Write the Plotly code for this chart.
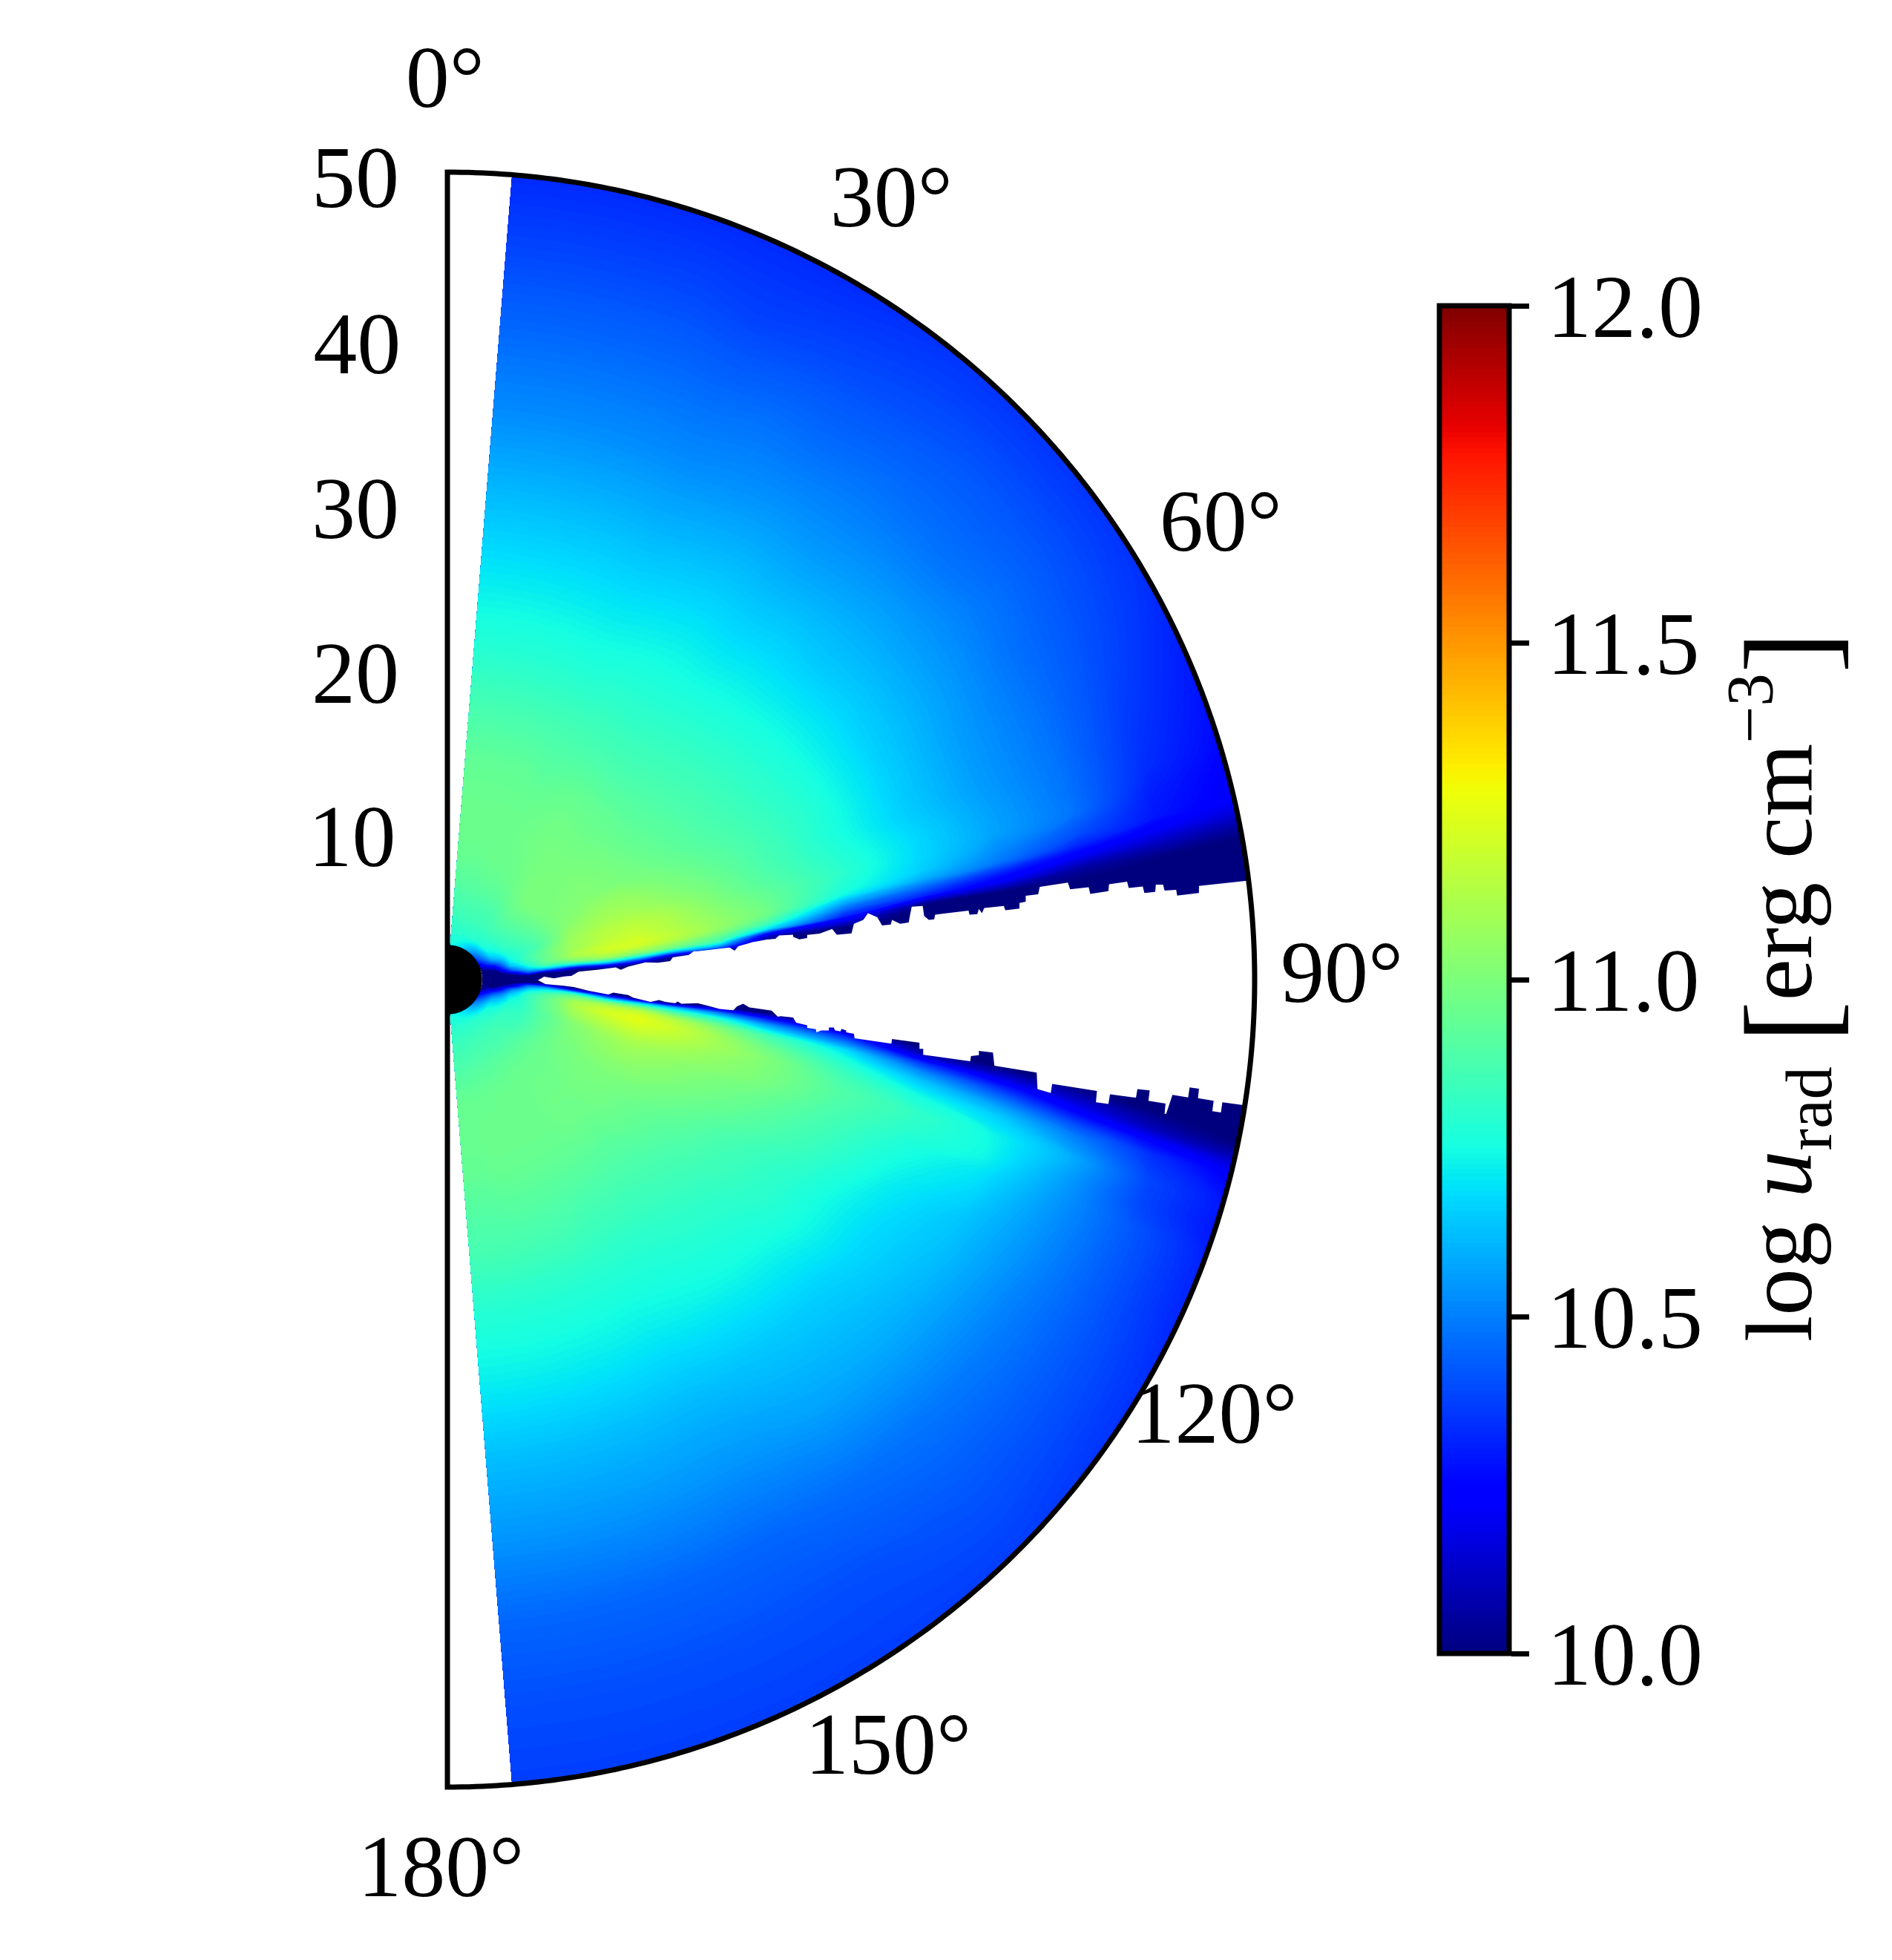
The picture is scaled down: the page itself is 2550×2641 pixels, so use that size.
import numpy as np
import plotly.graph_objects as go

# radius and polar angle of the table nodes
r_grid = [2.15, 3, 4, 5, 6, 7, 8, 10, 12, 14, 17, 20, 25, 30, 35, 40, 45, 50]
theta_grid = [4.6, 10, 15, 20, 25, 30, 35, 40, 45, 50, 55, 60, 65, 70, 73, 75, 77, 78, 79, 80,
              81, 82, 83, 84, 85, 86, 87, 88, 92, 93, 94, 95, 96, 97, 98, 99, 100, 101, 102, 103,
              104, 106, 108, 110, 115, 120, 125, 130, 135, 140, 145, 150, 155, 160, 165, 170, 175.4]

# log u_rad, one row per theta
log_urad = [
    [10.75, 10.80, 10.84, 10.87, 10.90, 10.93, 10.95, 10.96, 10.95, 10.93, 10.87, 10.80, 10.71, 10.62, 10.53, 10.46, 10.39, 10.33],
    [10.74, 10.80, 10.84, 10.88, 10.91, 10.93, 10.95, 10.96, 10.95, 10.93, 10.87, 10.80, 10.71, 10.62, 10.53, 10.46, 10.39, 10.33],
    [10.72, 10.80, 10.85, 10.88, 10.91, 10.93, 10.95, 10.96, 10.95, 10.93, 10.87, 10.80, 10.71, 10.62, 10.53, 10.46, 10.39, 10.33],
    [10.70, 10.80, 10.85, 10.88, 10.92, 10.94, 10.96, 10.96, 10.95, 10.93, 10.87, 10.80, 10.71, 10.62, 10.53, 10.46, 10.39, 10.33],
    [10.67, 10.80, 10.85, 10.88, 10.92, 10.94, 10.96, 10.96, 10.95, 10.92, 10.87, 10.80, 10.71, 10.62, 10.53, 10.46, 10.38, 10.33],
    [10.63, 10.80, 10.85, 10.88, 10.92, 10.95, 10.96, 10.97, 10.96, 10.93, 10.87, 10.81, 10.72, 10.63, 10.54, 10.47, 10.39, 10.33],
    [10.58, 10.79, 10.85, 10.88, 10.93, 10.96, 10.97, 10.98, 10.97, 10.94, 10.87, 10.81, 10.73, 10.64, 10.55, 10.47, 10.40, 10.34],
    [10.53, 10.78, 10.85, 10.90, 10.95, 10.98, 10.99, 10.99, 10.97, 10.94, 10.87, 10.82, 10.73, 10.64, 10.55, 10.48, 10.41, 10.35],
    [10.48, 10.78, 10.85, 10.91, 10.96, 11.00, 11.00, 10.99, 10.97, 10.94, 10.88, 10.83, 10.74, 10.65, 10.56, 10.48, 10.42, 10.35],
    [10.42, 10.76, 10.84, 10.90, 10.95, 11.00, 11.00, 11.00, 10.98, 10.94, 10.89, 10.84, 10.75, 10.65, 10.57, 10.48, 10.42, 10.35],
    [10.37, 10.73, 10.83, 10.89, 10.94, 10.99, 11.00, 11.01, 10.99, 10.95, 10.90, 10.85, 10.76, 10.66, 10.57, 10.49, 10.42, 10.35],
    [10.30, 10.68, 10.82, 10.87, 10.92, 10.98, 11.01, 11.02, 11.00, 10.97, 10.91, 10.86, 10.77, 10.66, 10.57, 10.48, 10.41, 10.34],
    [10.20, 10.60, 10.79, 10.85, 10.90, 10.97, 11.02, 11.06, 11.06, 11.01, 10.94, 10.88, 10.78, 10.66, 10.56, 10.48, 10.39, 10.31],
    [10.10, 10.45, 10.75, 10.83, 10.89, 10.97, 11.06, 11.10, 11.10, 11.06, 10.98, 10.90, 10.78, 10.66, 10.56, 10.48, 10.36, 10.28],
    [10.03, 10.30, 10.72, 10.84, 10.92, 11.00, 11.08, 11.14, 11.15, 11.11, 11.01, 10.92, 10.80, 10.68, 10.57, 10.48, 10.34, 10.26],
    [10.00, 10.22, 10.70, 10.85, 10.93, 11.02, 11.08, 11.15, 11.17, 11.13, 11.03, 10.95, 10.81, 10.68, 10.57, 10.48, 10.31, 10.24],
    [9.95, 10.12, 10.64, 10.82, 10.93, 11.01, 11.10, 11.17, 11.19, 11.14, 11.05, 10.97, 10.78, 10.66, 10.52, 10.40, 10.29, 10.22],
    [9.95, 10.10, 10.62, 10.82, 10.94, 11.02, 11.12, 11.19, 11.21, 11.16, 11.06, 10.98, 10.74, 10.60, 10.48, 10.32, 10.22, 10.16],
    [9.95, 10.05, 10.56, 10.78, 10.93, 11.01, 11.11, 11.20, 11.22, 11.16, 11.06, 10.95, 10.60, 10.46, 10.32, 10.20, 10.12, 10.06],
    [9.90, 10.00, 10.50, 10.75, 10.92, 10.99, 11.09, 11.19, 11.19, 11.14, 11.02, 10.87, 10.45, 10.32, 10.20, 10.06, 10.02, 9.99],
    [9.90, 9.95, 10.45, 10.72, 10.90, 10.93, 11.02, 11.14, 11.12, 11.06, 10.94, 10.70, 10.30, 10.02, 10.00, 10.00, 9.95, 9.90],
    [9.90, 9.90, 10.40, 10.66, 10.82, 10.85, 10.95, 11.08, 11.03, 10.97, 10.85, 10.20, 10.10, 9.95, 9.90, 9.90, 9.90, 9.90],
    [9.90, 9.90, 10.28, 10.60, 10.70, 10.72, 10.75, 10.90, 10.80, 10.60, 10.55, 10.00, 9.90, 9.90, 9.90, 9.90, 9.90, 9.90],
    [9.90, 9.90, 10.15, 10.50, 10.55, 10.50, 10.45, 10.60, 10.45, 10.10, 10.10, 9.90, 9.90, 9.90, 9.90, 9.90, 9.90, 9.90],
    [9.90, 9.90, 10.08, 10.40, 10.30, 10.20, 10.10, 10.20, 10.10, 10.00, 9.90, 9.90, 9.90, 9.90, 9.90, 9.90, 9.90, 9.90],
    [9.90, 9.90, 10.00, 10.20, 10.00, 10.05, 10.00, 10.00, 9.90, 9.90, 9.90, 9.90, 9.90, 9.90, 9.90, 9.90, 9.90, 9.90],
    [9.90, 9.90, 9.95, 10.00, 9.90, 9.90, 9.90, 9.90, 9.90, 9.90, 9.90, 9.90, 9.90, 9.90, 9.90, 9.90, 9.90, 9.90],
    [9.90, 9.90, 9.90, 9.90, 9.90, 9.90, 9.90, 9.90, 9.90, 9.90, 9.90, 9.90, 9.90, 9.90, 9.90, 9.90, 9.90, 9.90],
    [9.90, 9.90, 9.90, 9.95, 9.90, 9.90, 9.90, 9.90, 9.90, 9.90, 9.90, 9.90, 9.90, 9.90, 9.90, 9.90, 9.90, 9.90],
    [9.90, 9.90, 9.95, 10.20, 10.15, 10.00, 9.90, 9.90, 9.90, 9.90, 9.90, 9.90, 9.90, 9.90, 9.90, 9.90, 9.90, 9.90],
    [9.90, 9.90, 10.05, 10.40, 10.40, 10.20, 10.00, 9.90, 9.90, 9.90, 9.90, 9.90, 9.90, 9.90, 9.90, 9.90, 9.90, 9.90],
    [9.90, 9.90, 10.12, 10.50, 10.60, 10.50, 10.30, 10.00, 9.95, 9.90, 9.90, 9.90, 9.90, 9.90, 9.90, 9.90, 9.90, 9.90],
    [9.90, 9.90, 10.20, 10.60, 10.70, 10.75, 10.70, 10.35, 10.10, 10.00, 10.10, 10.00, 9.90, 9.90, 9.90, 9.90, 9.90, 9.90],
    [9.90, 9.90, 10.32, 10.66, 10.78, 10.85, 10.90, 10.70, 10.65, 10.60, 10.50, 10.30, 10.00, 9.90, 9.90, 9.90, 9.90, 9.90],
    [9.90, 10.00, 10.42, 10.72, 10.85, 10.93, 11.00, 10.95, 10.95, 10.85, 10.75, 10.55, 10.30, 9.95, 9.90, 9.90, 9.90, 9.90],
    [9.90, 10.02, 10.48, 10.76, 10.88, 10.97, 11.05, 11.10, 11.12, 11.02, 10.90, 10.72, 10.50, 10.10, 10.00, 9.95, 9.90, 9.90],
    [9.90, 10.05, 10.55, 10.80, 10.90, 11.00, 11.10, 11.17, 11.20, 11.14, 11.01, 10.87, 10.68, 10.35, 10.15, 10.03, 9.95, 9.90],
    [9.95, 10.12, 10.58, 10.81, 10.91, 11.00, 11.11, 11.20, 11.24, 11.18, 11.06, 10.92, 10.75, 10.52, 10.32, 10.14, 10.03, 9.97],
    [10.00, 10.18, 10.62, 10.82, 10.92, 11.00, 11.12, 11.21, 11.25, 11.20, 11.09, 10.97, 10.80, 10.63, 10.46, 10.26, 10.10, 10.02],
    [10.00, 10.23, 10.65, 10.82, 10.92, 11.00, 11.10, 11.19, 11.23, 11.19, 11.09, 11.00, 10.84, 10.70, 10.58, 10.40, 10.25, 10.13],
    [10.00, 10.28, 10.68, 10.82, 10.92, 10.99, 11.09, 11.17, 11.21, 11.17, 11.09, 11.02, 10.87, 10.76, 10.66, 10.50, 10.34, 10.23],
    [10.03, 10.38, 10.72, 10.82, 10.92, 10.98, 11.07, 11.13, 11.16, 11.13, 11.06, 11.01, 10.90, 10.82, 10.74, 10.60, 10.39, 10.29],
    [10.07, 10.45, 10.74, 10.82, 10.91, 10.97, 11.03, 11.09, 11.12, 11.09, 11.04, 11.00, 10.89, 10.80, 10.74, 10.57, 10.39, 10.29],
    [10.12, 10.52, 10.76, 10.82, 10.90, 10.95, 11.01, 11.06, 11.09, 11.06, 11.01, 10.97, 10.87, 10.77, 10.70, 10.55, 10.42, 10.31],
    [10.25, 10.62, 10.80, 10.83, 10.90, 10.95, 10.99, 11.03, 11.04, 11.02, 10.97, 10.92, 10.83, 10.72, 10.64, 10.53, 10.42, 10.32],
    [10.33, 10.70, 10.82, 10.84, 10.90, 10.95, 10.98, 11.00, 11.00, 10.98, 10.93, 10.87, 10.79, 10.69, 10.62, 10.51, 10.42, 10.34],
    [10.42, 10.74, 10.83, 10.85, 10.91, 10.95, 10.97, 10.99, 10.98, 10.95, 10.90, 10.85, 10.78, 10.68, 10.60, 10.50, 10.42, 10.35],
    [10.48, 10.76, 10.84, 10.87, 10.92, 10.95, 10.96, 10.98, 10.97, 10.94, 10.88, 10.83, 10.76, 10.66, 10.59, 10.49, 10.42, 10.36],
    [10.53, 10.78, 10.85, 10.88, 10.92, 10.95, 10.96, 10.97, 10.96, 10.92, 10.87, 10.82, 10.75, 10.65, 10.58, 10.48, 10.42, 10.37],
    [10.58, 10.79, 10.85, 10.88, 10.92, 10.95, 10.96, 10.97, 10.96, 10.92, 10.86, 10.81, 10.74, 10.64, 10.57, 10.47, 10.41, 10.37],
    [10.62, 10.80, 10.85, 10.88, 10.92, 10.95, 10.96, 10.96, 10.95, 10.92, 10.86, 10.80, 10.73, 10.63, 10.55, 10.46, 10.40, 10.37],
    [10.66, 10.80, 10.85, 10.88, 10.92, 10.94, 10.96, 10.96, 10.95, 10.92, 10.86, 10.80, 10.72, 10.62, 10.54, 10.45, 10.40, 10.37],
    [10.69, 10.80, 10.85, 10.88, 10.91, 10.94, 10.96, 10.96, 10.95, 10.92, 10.87, 10.80, 10.72, 10.62, 10.54, 10.45, 10.40, 10.37],
    [10.71, 10.80, 10.85, 10.88, 10.91, 10.94, 10.95, 10.96, 10.95, 10.92, 10.87, 10.80, 10.72, 10.62, 10.54, 10.45, 10.40, 10.37],
    [10.73, 10.80, 10.84, 10.87, 10.91, 10.93, 10.95, 10.96, 10.95, 10.92, 10.87, 10.80, 10.72, 10.62, 10.54, 10.45, 10.40, 10.37],
    [10.74, 10.80, 10.84, 10.87, 10.90, 10.93, 10.95, 10.95, 10.94, 10.91, 10.87, 10.80, 10.72, 10.62, 10.54, 10.45, 10.40, 10.37],
    [10.75, 10.80, 10.84, 10.87, 10.90, 10.93, 10.95, 10.95, 10.94, 10.91, 10.87, 10.80, 10.72, 10.62, 10.54, 10.45, 10.40, 10.37],
]

# jagged edges of the empty wedge around the midplane
upper_edge_x = [5.61, 5.99, 6.60, 7.22, 7.68, 8.13, 9.28, 10.43, 10.74, 11.20, 12.27, 13.04, 13.80, 13.96, 14.95, 15.26,
                15.49, 17.48, 17.79, 18.02, 18.94, 19.78, 20.31, 20.54, 21.41, 21.41, 21.80, 22.28, 22.28, 23.05, 23.83,
                24.12, 25.03, 25.18, 25.76, 26.05, 26.63, 26.92, 27.46, 27.54, 28.04, 28.57, 28.66, 28.76, 29.44, 29.53,
                29.82, 30.15, 30.21, 32.28, 32.34, 32.82, 32.92, 33.11, 33.25, 34.46, 34.56, 35.43, 35.43, 35.82, 35.82,
                36.59, 36.69, 38.43, 38.57, 39.72, 39.82, 40.94, 40.98, 42.10, 42.20, 43.07, 43.17, 43.84, 43.88, 44.33,
                44.42, 45.14, 45.20, 46.55, 46.55, 49.36, 49.74]
upper_edge_y = [-0.03, 0.18, 0.08, 0.20, 0.23, 0.49, 0.61, 0.76, 0.61, 0.80, 1.07, 1.04, 1.15, 1.38, 1.53, 1.76,
                1.76, 1.99, 1.79, 2.07, 2.33, 2.48, 2.53, 2.74, 2.78, 2.65, 2.49, 2.57, 2.77, 2.85, 3.14,
                2.78, 2.86, 3.46, 3.70, 4.11, 3.86, 3.35, 3.41, 3.70, 3.46, 3.54, 4.02, 4.51, 4.56, 3.94,
                3.70, 3.73, 4.02, 4.27, 4.02, 4.06, 4.38, 4.11, 4.43, 4.56, 4.30, 4.40, 4.75, 4.83, 5.19,
                5.28, 5.75, 6.01, 5.59, 5.72, 5.31, 5.48, 5.91, 6.07, 5.67, 5.77, 5.36, 5.44, 5.88, 5.88,
                5.51, 5.56, 5.20, 5.36, 5.80, 6.12, 6.15]
lower_edge_x = [5.61, 6.07, 7.22, 7.83, 8.75, 9.97, 10.28, 11.20, 11.50, 12.58, 13.11, 13.50, 14.11, 14.26, 14.49, 15.49,
                16.10, 16.86, 17.71, 17.94, 18.32, 18.71, 20.08, 20.47, 20.64, 21.41, 21.60, 22.28, 22.28, 22.82, 22.86,
                23.15, 23.63, 23.63, 23.92, 24.02, 24.35, 24.41, 24.70, 24.70, 25.18, 25.22, 27.50, 27.54, 29.24, 29.24,
                29.47, 29.47, 32.38, 32.43, 32.92, 32.92, 33.79, 33.88, 36.50, 36.55, 37.37, 37.46, 40.23, 40.17, 40.94,
                41.04, 42.65, 42.74, 43.50, 43.42, 44.48, 44.42, 44.52, 44.91, 45.88, 45.97, 46.55, 46.49, 47.46, 47.38,
                47.91, 48.00, 49.36]
lower_edge_y = [-0.03, -0.28, -0.38, -0.46, -0.69, -0.92, -0.80, -0.95, -1.12, -1.38, -1.26, -1.38, -1.46, -1.35, -1.49, -1.46,
                -1.61, -1.81, -1.89, -1.66, -1.49, -1.72, -1.92, -2.30, -2.26, -2.34, -2.67, -2.83, -2.99, -3.07, -3.26,
                -3.15, -3.15, -2.96, -2.96, -3.15, -3.20, -3.04, -3.15, -3.26, -3.36, -3.63, -3.96, -3.68, -3.91, -4.28,
                -4.28, -4.65, -5.05, -4.73, -4.68, -4.41, -4.52, -5.33, -5.76, -6.78, -7.02, -6.46, -6.89, -7.59, -7.70,
                -7.10, -7.31, -6.78, -6.86, -7.50, -7.67, -8.31, -8.31, -7.13, -7.29, -6.67, -6.75, -7.34, -7.50, -8.15,
                -8.23, -7.59, -7.78]

# tick labels
radial_labels = ['10', '20', '30', '40', '50']
radial_label_x = [-5.9, -5.7, -5.7, -5.6, -5.7]
radial_label_y = [8.4, 18.5, 28.7, 38.9, 49.2]
angle_labels = ['0°', '30°', '60°', '90°', '120°', '150°', '180°']
angle_label_x = [-0.15, 27.5, 47.9, 55.4, 47.5, 27.3, -0.40]
angle_label_y = [55.4, 48.0, 27.9, 0.0, -27.3, -47.8, -55.4]
cbar_ticks = [10.0, 10.5, 11.0, 11.5, 12.0]
cbar_labels = ['10.0', '10.5', '11.0', '11.5', '12.0']

# matplotlib jet
jet = [[0, 'rgb(0,0,127)'], [0.11, 'rgb(0,0,255)'], [0.125, 'rgb(0,0,255)'], [0.34, 'rgb(0,219,255)'],
       [0.35, 'rgb(0,230,247)'], [0.375, 'rgb(21,255,226)'], [0.64, 'rgb(239,255,8)'], [0.65, 'rgb(247,246,0)'],
       [0.66, 'rgb(255,236,0)'], [0.89, 'rgb(255,19,0)'], [0.91, 'rgb(232,0,0)'], [1, 'rgb(127,0,0)']]

FONT = 'Liberation Serif'
W, H = 2550, 2641
SCALE = 21.76
CX, CY = 603, 1320
R_MAX = 50
BH_R = 2.15

rr, tt = np.meshgrid(r_grid, np.radians(theta_grid))
grid_x = rr * np.sin(tt)
grid_y = rr * np.cos(tt)

fig = go.Figure()

fig.add_trace(go.Carpet(
    a=r_grid, b=theta_grid, x=grid_x.tolist(), y=grid_y.tolist(), carpet='polar',
    aaxis=dict(smoothing=0, showgrid=False, showline=False, startline=False, endline=False,
               showticklabels='none', minorgridcount=0),
    baxis=dict(smoothing=0, showgrid=False, showline=False, startline=False, endline=False,
               showticklabels='none', minorgridcount=0),
))

fig.add_trace(go.Contourcarpet(
    a=r_grid, b=theta_grid, z=log_urad, carpet='polar',
    autocontour=False,
    contours=dict(start=10, end=12, size=2 / 256, coloring='fill', showlines=False),
    line=dict(width=0),
    colorscale=jet, zmin=10, zmax=12,
    colorbar=dict(
        x=1940 / W, xanchor='left', xpad=0, ypad=0,
        y=(H - CY) / H, yanchor='middle',
        len=(2228 - 412) / H, lenmode='fraction', thickness=94,
        outlinewidth=7, outlinecolor='black',
        ticks='outside', ticklen=24, tickwidth=7, tickcolor='black',
        tickmode='array', tickvals=cbar_ticks, ticktext=cbar_labels,
        tickfont=dict(family=FONT, size=120, color='black'),
    ),
))

# the empty wedge, drawn over the field
fig.add_trace(go.Scatter(
    x=upper_edge_x + [51, 51] + lower_edge_x[::-1],
    y=upper_edge_y + [6.15, -7.78] + lower_edge_y[::-1],
    mode='lines', fill='toself', fillcolor='white', line=dict(width=0), hoverinfo='skip',
))

# central black disc
disc_t = np.radians(np.linspace(0, 180, 91))
fig.add_trace(go.Scatter(
    x=BH_R * np.sin(disc_t), y=BH_R * np.cos(disc_t),
    mode='lines', fill='toself', fillcolor='black', line=dict(width=0, color='black', simplify=False),
    hoverinfo='skip',
))

# frame of the half disc
frame_t = np.radians(np.linspace(0, 180, 361))
fig.add_trace(go.Scatter(
    x=np.r_[0, R_MAX * np.sin(frame_t), 0], y=np.r_[-R_MAX, R_MAX * np.cos(frame_t), R_MAX],
    mode='lines', line=dict(color='black', width=7, simplify=False), hoverinfo='skip',
))

fig.add_trace(go.Scatter(
    x=radial_label_x + angle_label_x, y=radial_label_y + angle_label_y,
    text=radial_labels + angle_labels, mode='text', textposition='middle center',
    textfont=dict(family=FONT, size=118, color='black'), hoverinfo='skip',
))

# brackets sit lower and taller than the text, as in the LaTeX label
open_br = '<sub><span style="font-size:170px">[</span></sub>'
close_br = '<sub><span style="font-size:170px">]</span></sub>'
fig.add_annotation(
    xref='paper', yref='paper', x=2507 / W, y=(H - 1330) / H, showarrow=False, textangle=-90,
    text=f'log <i>u</i><sub>rad</sub> {open_br}erg cm<sup>−3</sup>{close_br}',
    font=dict(family=FONT, size=127, color='black'),
)

fig.update_layout(
    width=W, height=H, margin=dict(l=0, r=0, t=0, b=0),
    paper_bgcolor='white', plot_bgcolor='white', showlegend=False,
    xaxis=dict(visible=False, range=[-CX / SCALE, (W - CX) / SCALE]),
    yaxis=dict(visible=False, range=[(CY - H) / SCALE, CY / SCALE]),
)

fig.write_html("out.html", config=dict(displayModeBar=False),
               post_script="document.body.style.margin='0';")
